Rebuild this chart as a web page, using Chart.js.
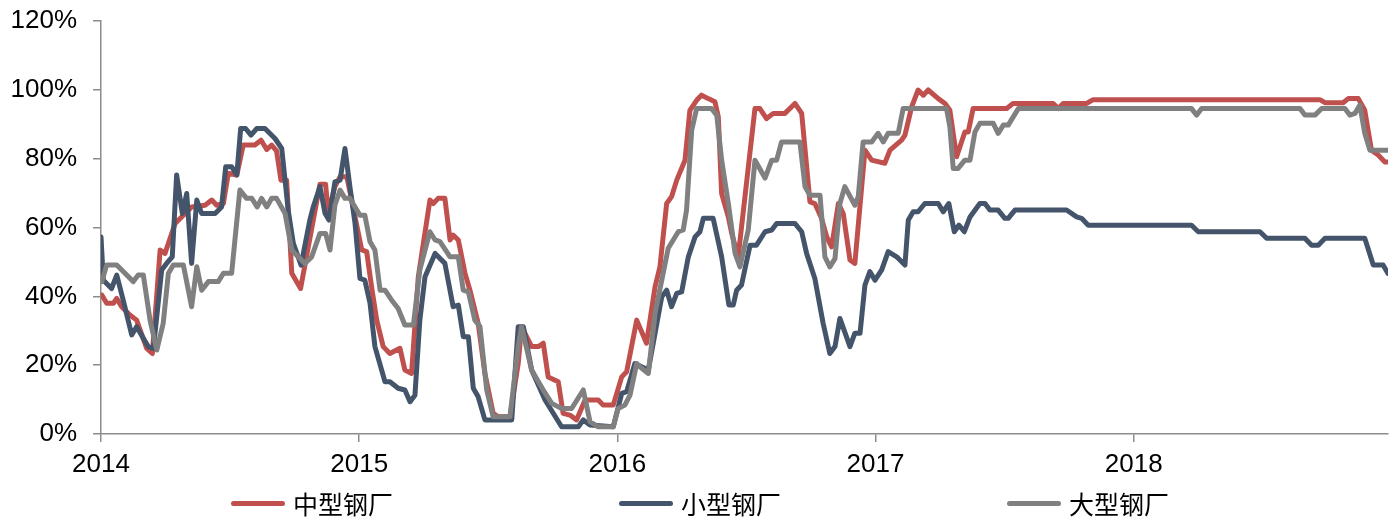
<!DOCTYPE html>
<html>
<head>
<meta charset="utf-8">
<script src="https://cdn.jsdelivr.net/npm/chart.js@4/dist/chart.umd.min.js"></script>
<style>
  body { margin: 0; background: #fff; }
  #wrap { position: relative; width: 1400px; height: 521px; }
  #canvas { position: absolute; left: 0; top: 0; }
  #legend { position: absolute; left: 0; top: 490px; width: 1400px; height: 26px;
            display: flex; justify-content: center; align-items: center; gap: 226px;
            font-family: "Noto Sans CJK SC", sans-serif; font-size: 25px; color: #000; }
  #legend .item { display: flex; align-items: center; line-height: 26px; }
  #legend .swatch { width: 54px; height: 5px; border-radius: 3px; margin-right: 8px; }
</style>
</head>
<body>
<div id="wrap">
  <canvas id="canvas" width="1400" height="521"></canvas>
  <div id="legend"></div>
</div>
<script>
// [decimal year, %] at each corner of the line
var midMills = [
  [2014.003,40.4],[2014.022,38.0],[2014.048,38.0],[2014.061,39.4],[2014.080,37.0],[2014.112,34.6],[2014.138,33.1],
  [2014.177,24.9],[2014.199,23.4],[2014.229,53.5],[2014.248,52.5],[2014.287,61.2],[2014.319,63.6],[2014.351,66.0],
  [2014.403,66.5],[2014.429,68.0],[2014.448,66.5],[2014.474,67.0],[2014.493,75.8],[2014.526,75.3],[2014.551,84.0],
  [2014.596,84.0],[2014.620,85.4],[2014.642,82.7],[2014.661,84.0],[2014.680,82.3],[2014.697,73.8],[2014.719,73.8],
  [2014.739,46.7],[2014.773,42.3],[2014.848,72.6],[2014.870,72.6],[2014.880,64.1],[2014.906,71.9],[2014.926,74.8],
  [2014.952,74.8],[2014.971,68.0],[2014.997,58.3],[2015.010,53.5],[2015.029,53.0],[2015.048,42.8],[2015.068,33.1],
  [2015.093,25.4],[2015.119,23.4],[2015.158,24.9],[2015.177,18.6],[2015.203,17.6],[2015.229,45.7],[2015.274,68.0],
  [2015.287,67.0],[2015.306,68.5],[2015.332,68.5],[2015.352,56.4],[2015.364,57.8],[2015.384,56.4],[2015.410,46.7],
  [2015.429,41.8],[2015.461,32.2],[2015.487,17.6],[2015.519,6.0],[2015.539,5.0],[2015.584,5.0],[2015.616,20.5],
  [2015.629,31.2],[2015.668,25.4],[2015.694,25.4],[2015.713,26.4],[2015.732,16.6],[2015.771,15.2],[2015.790,6.0],
  [2015.816,5.5],[2015.842,4.1],[2015.875,9.9],[2015.926,9.9],[2015.945,8.4],[2015.984,8.4],[2016.017,16.6],
  [2016.036,18.1],[2016.075,33.1],[2016.113,26.4],[2016.146,42.8],[2016.165,48.6],[2016.191,67.0],[2016.210,69.0],
  [2016.230,73.8],[2016.262,79.6],[2016.281,94.1],[2016.307,97.0],[2016.326,98.5],[2016.352,97.5],[2016.378,96.6],
  [2016.391,92.2],[2016.404,69.9],[2016.430,63.1],[2016.443,58.3],[2016.468,51.5],[2016.533,94.6],[2016.552,94.6],
  [2016.578,91.7],[2016.604,93.2],[2016.649,93.2],[2016.688,96.1],[2016.714,93.2],[2016.746,67.5],[2016.765,67.0],
  [2016.791,62.7],[2016.811,57.3],[2016.830,54.4],[2016.856,67.0],[2016.875,64.1],[2016.901,50.6],[2016.920,49.6],
  [2016.959,82.5],[2016.985,79.6],[2017.036,78.7],[2017.056,82.5],[2017.101,85.4],[2017.114,86.9],[2017.140,95.1],
  [2017.165,100],[2017.185,98.5],[2017.204,100],[2017.243,97.5],[2017.269,96.1],[2017.288,94.1],[2017.314,80.6],
  [2017.346,87.8],[2017.359,87.8],[2017.378,94.6],[2017.508,94.6],[2017.533,96.1],[2017.688,96.1],[2017.708,94.6],
  [2017.727,96.1],[2017.818,96.1],[2017.843,97.2],[2018.721,97.2],[2018.741,96.3],[2018.811,96.3],[2018.831,97.5],
  [2018.870,97.5],[2018.895,94.1],[2018.921,82.5],[2018.947,81.1],[2018.973,79.1],[2018.985,79.1]
];
var smallMills = [
  [2014.000,57.3],[2014.009,44.7],[2014.041,42.3],[2014.061,46.2],[2014.086,38.9],[2014.119,28.8],[2014.138,31.2],
  [2014.164,27.8],[2014.183,25.4],[2014.203,24.9],[2014.235,47.7],[2014.254,49.6],[2014.276,51.5],[2014.293,75.3],
  [2014.315,64.1],[2014.332,69.9],[2014.351,49.6],[2014.371,68.0],[2014.390,64.1],[2014.442,64.1],[2014.467,66.0],
  [2014.483,77.7],[2014.506,77.7],[2014.526,75.3],[2014.541,88.8],[2014.560,88.8],[2014.581,86.9],[2014.603,88.8],
  [2014.635,88.8],[2014.674,85.9],[2014.700,83.0],[2014.725,65.1],[2014.745,55.4],[2014.775,49.1],[2014.809,62.2],
  [2014.822,66.0],[2014.848,71.9],[2014.868,64.1],[2014.883,62.2],[2014.906,73.3],[2014.926,73.8],[2014.945,83.0],
  [2014.964,71.9],[2014.984,61.2],[2015.003,45.2],[2015.022,44.7],[2015.042,38.0],[2015.061,25.4],[2015.100,15.2],
  [2015.119,15.2],[2015.151,13.3],[2015.177,12.8],[2015.197,9.4],[2015.216,11.3],[2015.235,33.1],[2015.255,45.7],
  [2015.294,52.5],[2015.332,49.6],[2015.364,37.0],[2015.384,37.5],[2015.403,28.3],[2015.423,28.3],[2015.442,13.3],
  [2015.461,10.8],[2015.487,4.1],[2015.591,4.1],[2015.616,31.2],[2015.636,31.2],[2015.668,18.6],[2015.720,9.9],
  [2015.784,2.1],[2015.849,2.1],[2015.868,4.1],[2015.894,2.6],[2015.984,2.1],[2016.017,11.8],[2016.036,12.3],
  [2016.068,20.5],[2016.120,18.6],[2016.146,29.3],[2016.172,39.9],[2016.191,41.8],[2016.210,37.0],[2016.230,40.9],
  [2016.249,41.3],[2016.275,51.5],[2016.301,57.3],[2016.320,58.8],[2016.333,62.7],[2016.371,62.7],[2016.404,51.5],
  [2016.432,37.5],[2016.449,37.5],[2016.462,41.8],[2016.481,43.3],[2016.514,54.9],[2016.539,54.9],[2016.572,58.8],
  [2016.598,59.3],[2016.617,61.2],[2016.688,61.2],[2016.714,58.8],[2016.733,52.5],[2016.765,45.2],[2016.797,32.2],
  [2016.823,23.4],[2016.843,25.4],[2016.862,33.6],[2016.901,25.4],[2016.920,29.3],[2016.940,29.3],[2016.959,43.3],
  [2016.978,47.2],[2016.998,44.7],[2017.024,47.7],[2017.049,53.0],[2017.082,51.5],[2017.114,49.1],[2017.127,62.2],
  [2017.146,64.6],[2017.165,64.6],[2017.191,67.0],[2017.243,67.0],[2017.262,64.6],[2017.284,67.0],[2017.305,58.8],
  [2017.323,60.7],[2017.344,58.8],[2017.366,63.1],[2017.404,67.0],[2017.424,67.0],[2017.443,65.1],[2017.475,65.1],
  [2017.501,62.7],[2017.514,62.7],[2017.540,65.1],[2017.740,65.1],[2017.779,63.1],[2017.798,62.7],[2017.824,60.7],
  [2018.224,60.7],[2018.250,58.8],[2018.489,58.8],[2018.515,56.9],[2018.663,56.9],[2018.689,54.9],[2018.715,54.9],
  [2018.741,56.9],[2018.895,56.9],[2018.928,49.1],[2018.966,49.1],[2018.985,46.7]
];
var largeMills = [
  [2014.003,44.3],[2014.022,49.1],[2014.061,49.1],[2014.093,46.7],[2014.125,44.3],[2014.144,46.2],[2014.164,46.2],
  [2014.190,33.1],[2014.216,24.4],[2014.241,32.2],[2014.261,46.7],[2014.280,49.1],[2014.319,49.1],[2014.351,37.0],
  [2014.371,48.6],[2014.390,41.8],[2014.416,44.3],[2014.454,44.3],[2014.474,46.7],[2014.506,46.7],[2014.538,70.9],
  [2014.564,68.5],[2014.584,68.5],[2014.605,66.0],[2014.622,68.5],[2014.642,66.0],[2014.661,68.5],[2014.680,68.5],
  [2014.713,64.1],[2014.739,53.5],[2014.751,52.5],[2014.790,49.6],[2014.816,51.5],[2014.848,58.3],[2014.870,58.3],
  [2014.887,53.5],[2014.906,66.5],[2014.926,70.9],[2014.945,68.5],[2014.964,68.5],[2014.984,66.0],[2015.003,63.6],
  [2015.022,63.6],[2015.042,55.9],[2015.061,53.5],[2015.081,41.8],[2015.100,41.8],[2015.126,38.9],[2015.151,36.5],
  [2015.177,31.7],[2015.210,31.7],[2015.235,47.7],[2015.274,58.8],[2015.294,56.4],[2015.313,55.9],[2015.352,51.5],
  [2015.384,51.5],[2015.403,41.8],[2015.423,41.3],[2015.448,33.1],[2015.468,31.2],[2015.494,12.8],[2015.519,5.0],
  [2015.584,5.0],[2015.616,25.4],[2015.629,31.2],[2015.668,18.6],[2015.713,12.8],[2015.746,8.9],[2015.784,7.4],
  [2015.823,7.4],[2015.868,12.8],[2015.894,3.6],[2015.926,2.1],[2015.984,2.1],[2016.003,7.4],[2016.029,8.4],
  [2016.049,11.3],[2016.075,20.5],[2016.094,19.1],[2016.120,17.6],[2016.146,35.1],[2016.172,44.7],[2016.197,54.0],
  [2016.236,58.8],[2016.255,59.3],[2016.268,65.1],[2016.288,88.3],[2016.307,94.6],[2016.365,94.6],[2016.385,92.7],
  [2016.404,79.6],[2016.430,67.0],[2016.456,52.5],[2016.475,48.6],[2016.507,59.3],[2016.533,79.6],[2016.572,74.4],
  [2016.598,79.6],[2016.617,79.6],[2016.636,84.9],[2016.707,84.9],[2016.727,71.9],[2016.746,69.4],[2016.785,69.4],
  [2016.804,51.5],[2016.823,48.6],[2016.843,51.0],[2016.862,67.0],[2016.881,71.9],[2016.920,66.5],[2016.933,69.0],
  [2016.952,84.9],[2016.985,84.9],[2017.010,87.4],[2017.030,84.9],[2017.049,87.4],[2017.088,87.4],[2017.107,94.6],
  [2017.275,94.6],[2017.288,89.3],[2017.301,77.2],[2017.320,77.2],[2017.346,79.6],[2017.366,79.6],[2017.385,87.8],
  [2017.404,90.3],[2017.456,90.3],[2017.475,87.4],[2017.495,89.8],[2017.514,89.8],[2017.553,94.6],[2018.224,94.6],
  [2018.244,92.7],[2018.263,94.6],[2018.644,94.6],[2018.663,92.7],[2018.702,92.7],[2018.728,94.6],[2018.818,94.6],
  [2018.837,92.7],[2018.857,93.2],[2018.876,95.6],[2018.895,87.4],[2018.915,82.5],[2018.985,82.5]
];

var seriesNames = ['中型钢厂', '小型钢厂', '大型钢厂'];
var seriesColors = ['#C0504D', '#44546A', '#808080'];
var yearTicks = [2014, 2015, 2016, 2017, 2018];
var yTicks = [0, 20, 40, 60, 80, 100, 120];

function toPoints(arr) {
  return arr.map(function (p) { return { x: p[0], y: p[1] }; });
}

var allSeries = [midMills, smallMills, largeMills];
var datasets = allSeries.map(function (s, i) {
  return {
    label: seriesNames[i],
    data: toPoints(s),
    borderColor: seriesColors[i],
    backgroundColor: seriesColors[i],
    borderWidth: 5,
    pointRadius: 0,
    tension: 0,
    borderJoinStyle: 'round',
    borderCapStyle: 'round',
    order: 3 - i
  };
});

var axisColor = '#8c8c8c';
var fontFamily = '"Liberation Sans", Arial, sans-serif';

var ctx = document.getElementById('canvas').getContext('2d');
var chart = new Chart(ctx, {
  type: 'line',
  data: { datasets: datasets },
  options: {
    responsive: false,
    animation: false,
    layout: { padding: { top: 21, right: 12, bottom: 0, left: 0 } },
    plugins: { legend: { display: false }, tooltip: { enabled: false } },
    scales: {
      x: {
        type: 'linear',
        min: 2014,
        max: 2018.985,
        afterBuildTicks: function (scale) {
          scale.ticks = yearTicks.map(function (v) { return { value: v }; });
        },
        afterFit: function (scale) { scale.height = 87; },
        ticks: {
          color: '#000',
          font: { family: fontFamily, size: 26 },
          padding: 7,
          maxRotation: 0,
          autoSkip: false,
          callback: function (v) { return String(v); }
        },
        grid: { drawOnChartArea: false, drawTicks: true, tickLength: 8, color: axisColor, lineWidth: 1.5 },
        border: { display: true, color: axisColor, width: 1.5 }
      },
      y: {
        min: 0,
        max: 120,
        afterBuildTicks: function (scale) {
          scale.ticks = yTicks.map(function (v) { return { value: v }; });
        },
        afterFit: function (scale) { scale.width = 101; },
        ticks: {
          color: '#000',
          font: { family: fontFamily, size: 26, lineHeight: 0.4 },
          padding: 16,
          callback: function (v) { return v + '%'; }
        },
        grid: { drawOnChartArea: false, drawTicks: true, tickLength: 8, color: axisColor, lineWidth: 1.5 },
        border: { display: true, color: axisColor, width: 1.5 }
      }
    }
  }
});

// legend below the plot, built from the chart's own datasets
var legend = document.getElementById('legend');
chart.data.datasets.forEach(function (ds) {
  var item = document.createElement('div');
  item.className = 'item';
  var sw = document.createElement('span');
  sw.className = 'swatch';
  sw.style.background = ds.borderColor;
  var txt = document.createElement('span');
  txt.textContent = ds.label;
  item.appendChild(sw);
  item.appendChild(txt);
  legend.appendChild(item);
});
</script>
</body>
</html>
